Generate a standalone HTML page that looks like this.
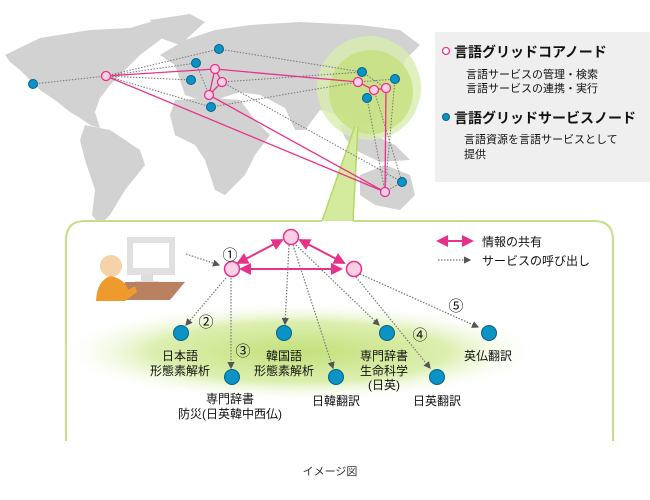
<!DOCTYPE html>
<html><head><meta charset="utf-8"><style>
html,body{margin:0;padding:0;background:#fff;}
svg{display:block;font-family:"Liberation Sans","Noto Sans CJK JP",sans-serif;}
</style></head><body>
<svg width="650" height="500" viewBox="0 0 650 500" xmlns="http://www.w3.org/2000/svg">
<defs>
<radialGradient id="glow" cx="50%" cy="50%" r="50%">
<stop offset="0" stop-color="#c4e07a"/><stop offset="0.6" stop-color="#dcefb0"/><stop offset="1" stop-color="#ffffff" stop-opacity="0"/>
</radialGradient>
<marker id="ga" markerWidth="6" markerHeight="6" refX="5" refY="3" orient="auto"><path d="M0,0 L6,3 L0,6z" fill="#555"/></marker>
<marker id="pa" markerWidth="6" markerHeight="6" refX="5" refY="3" orient="auto"><path d="M0,0 L6,3 L0,6z" fill="#e8328a"/></marker>
<marker id="ps" markerWidth="6" markerHeight="6" refX="1" refY="3" orient="auto"><path d="M6,0 L0,3 L6,6z" fill="#e8328a"/></marker>
</defs>
<!-- map -->
<g fill="#d2d2d2">
<polygon points="5,55 40,38 90,30 130,28 150,22 175,24 160,40 140,55 125,70 110,85 100,98 95,112 100,128 90,125 80,118 70,112 55,100 40,90 30,80 20,70 10,62"/>
<polygon points="150,20 190,14 205,22 180,45 160,38"/>
<polygon points="85,125 110,130 140,150 145,165 125,190 110,215 100,225 92,215 95,190 85,160 80,140"/>
<polygon points="160,55 185,40 215,30 250,25 300,22 360,25 400,30 420,45 405,60 400,80 390,100 375,120 355,125 340,115 320,110 305,130 295,130 285,108 270,100 260,95 240,92 215,100 200,100 185,95 180,80 175,65"/>
<polygon points="175,100 215,98 240,100 255,120 270,135 255,155 245,175 225,195 215,190 205,160 195,145 175,135 170,115"/>
<polygon points="360,175 385,165 410,175 415,195 400,210 375,205 360,195"/>
<polygon points="340,125 360,128 395,145 410,160 380,162 355,150 345,138"/>
</g>
<circle cx="369" cy="88" r="52" fill="#d9ecaf" opacity="0.8"/>
<circle cx="371" cy="92" r="42" fill="#c6e07e" opacity="0.8"/>
<polygon points="355,126 322,221 353,221 358,126" fill="#d4ea9c"/>
<line x1="355" y1="126" x2="322" y2="221" stroke="#b5d86a" stroke-width="1.5"/>
<line x1="358" y1="126" x2="353" y2="221" stroke="#b5d86a" stroke-width="1.5"/>
<!-- dotted links -->
<g stroke="#777" stroke-width="1" stroke-dasharray="1.5,1.5" fill="none">
<line x1="33" y1="84" x2="106" y2="76"/><line x1="106" y1="76" x2="219" y2="49"/>
<line x1="106" y1="76" x2="196" y2="63"/><line x1="106" y1="76" x2="191" y2="80"/>
<line x1="106" y1="76" x2="211" y2="107"/><line x1="219" y1="49" x2="362" y2="72"/>
<line x1="211" y1="107" x2="358" y2="82"/><line x1="222" y1="82" x2="402" y2="182"/>
<line x1="362" y1="72" x2="386" y2="88"/><line x1="367" y1="98" x2="385" y2="192"/>
<line x1="395" y1="79" x2="385" y2="192"/><line x1="374" y1="90" x2="402" y2="182"/>
<line x1="358" y1="82" x2="395" y2="79"/><line x1="385" y1="192" x2="402" y2="182"/>
<line x1="196" y1="63" x2="209" y2="95"/><line x1="222" y1="82" x2="362" y2="72"/>
</g>
<g stroke="#e8328a" stroke-width="1.3" fill="none">
<line x1="106" y1="76" x2="215" y2="69"/><line x1="215" y1="69" x2="358" y2="82"/>
<line x1="106" y1="76" x2="385" y2="192"/><line x1="209" y1="95" x2="385" y2="192"/>
<line x1="215" y1="69" x2="222" y2="82"/><line x1="215" y1="69" x2="209" y2="95"/>
<line x1="222" y1="82" x2="209" y2="95"/><line x1="358" y1="82" x2="374" y2="90"/>
<line x1="374" y1="90" x2="386" y2="88"/><line x1="386" y1="88" x2="385" y2="192"/>
</g>
<g fill="#0a93c4" stroke="#07608a" stroke-width="1">
<circle cx="33" cy="84" r="4.5"/><circle cx="219" cy="49" r="4.5"/><circle cx="196" cy="63" r="4.5"/>
<circle cx="191" cy="80" r="4.5"/><circle cx="211" cy="107" r="4.5"/><circle cx="362" cy="72" r="4.5"/>
<circle cx="395" cy="79" r="4.5"/><circle cx="367" cy="98" r="4.5"/><circle cx="402" cy="182" r="4.5"/>
</g>
<g fill="#fbd0e4" stroke="#e8328a" stroke-width="1.3">
<circle cx="106" cy="76" r="4.5"/><circle cx="215" cy="69" r="4.5"/><circle cx="222" cy="82" r="4.5"/>
<circle cx="209" cy="95" r="4.5"/><circle cx="358" cy="82" r="4.5"/><circle cx="374" cy="90" r="4.5"/>
<circle cx="386" cy="88" r="4.5"/><circle cx="385" cy="192" r="4.5"/>
</g>
<!-- legend box -->
<rect x="435" y="32" width="215" height="150" fill="#efefef"/>
<circle cx="446" cy="51" r="3.5" fill="#fff" stroke="#e8328a" stroke-width="1.3"/>
<text x="454" y="57" font-size="14" font-weight="bold" fill="#111">言語グリッドコアノード</text>
<text x="466" y="78" font-size="11" fill="#111">言語サービスの管理・検索</text>
<text x="466" y="92" font-size="11" fill="#111">言語サービスの連携・実行</text>
<circle cx="446" cy="117" r="3.5" fill="#0a93c4" stroke="#07608a"/>
<text x="454" y="123" font-size="14" font-weight="bold" fill="#111">言語グリッドサービスノード</text>
<text x="464" y="143" font-size="11" fill="#111">言語資源を言語サービスとして</text>
<text x="464" y="158" font-size="11" fill="#111">提供</text>
<!-- panel -->
<path d="M322,221 L85,221 Q66,221 66,240 L66,440 L613,440 L613,240 Q613,221 594,221 L353,221" fill="#fff" stroke="#c2e08a" stroke-width="2"/>
<rect x="67" y="425" width="545" height="20" fill="#fff"/>
<ellipse cx="300" cy="352" rx="245" ry="50" fill="url(#glow)"/>
<!-- person -->
<rect x="127" y="237" width="48" height="38" fill="#e0e0e0"/><rect x="133" y="243" width="36" height="25" fill="#fff"/>
<rect x="141" y="275" width="12" height="6" fill="#ddd"/><rect x="135" y="281" width="24" height="3" fill="#ddd"/>
<polygon points="125,282 185,282 170,300 120,300" fill="#b98160"/>
<circle cx="111" cy="266" r="11" fill="#f6d2a8"/>
<path d="M96,301 Q97,280 111,276 Q126,280 128,290 L135,286 L137,292 L125,301 Z" fill="#ee9a2c"/>
<!-- bottom links -->
<g stroke="#777" stroke-width="1.2" stroke-dasharray="1.5,1.5" fill="none" marker-end="url(#ga)">
<line x1="186" y1="254" x2="219" y2="265"/>
<line x1="226" y1="278" x2="186" y2="325"/>
<line x1="231" y1="278" x2="231" y2="368"/>
<line x1="289" y1="245" x2="285" y2="324"/>
<line x1="293" y1="245" x2="333" y2="368"/>
<line x1="296" y1="245" x2="379" y2="325"/>
<line x1="356" y1="277" x2="430" y2="368"/>
<line x1="360" y1="274" x2="478" y2="327"/>
</g>
<g stroke="#e8328a" stroke-width="2" marker-end="url(#pa)" marker-start="url(#ps)">
<line x1="238" y1="263" x2="282" y2="240"/>
<line x1="300" y1="240" x2="344" y2="263"/>
<line x1="241" y1="269" x2="341" y2="269"/>
</g>
<g fill="#fbd0e4" stroke="#e8328a" stroke-width="1.5">
<circle cx="291" cy="237" r="7.5"/><circle cx="232" cy="269" r="7.5"/><circle cx="354" cy="269" r="7.5"/>
</g>
<g fill="#0a93c4" stroke="#07608a" stroke-width="1">
<circle cx="181" cy="333" r="7.5"/><circle cx="232" cy="377" r="7.5"/><circle cx="284" cy="333" r="7.5"/>
<circle cx="336" cy="377" r="7.5"/><circle cx="387" cy="333" r="7.5"/><circle cx="437" cy="377" r="7.5"/>
<circle cx="489" cy="333" r="7.5"/>
</g>
<g font-size="15" fill="#111" text-anchor="middle">
<text x="230" y="260">①</text><text x="206" y="327">②</text><text x="243" y="356">③</text>
<text x="420" y="340">④</text><text x="456" y="311">⑤</text>
</g>
<g font-size="12" fill="#111" text-anchor="middle">
<text x="180" y="360">日本語</text><text x="180" y="375">形態素解析</text>
<text x="230" y="403">専門辞書</text><text x="230" y="418">防災(日英韓中西仏)</text>
<text x="284" y="360">韓国語</text><text x="284" y="375">形態素解析</text>
<text x="336" y="405">日韓翻訳</text>
<text x="384" y="360">専門辞書</text><text x="384" y="375">生命科学</text><text x="384" y="389">(日英)</text>
<text x="437" y="405">日英翻訳</text>
<text x="488" y="360">英仏翻訳</text>
</g>
<line x1="438" y1="241" x2="472" y2="241" stroke="#e8328a" stroke-width="2" marker-end="url(#pa)" marker-start="url(#ps)"/>
<text x="482" y="246" font-size="12" fill="#111">情報の共有</text>
<line x1="438" y1="260" x2="470" y2="260" stroke="#777" stroke-width="1.2" stroke-dasharray="1.5,1.5" marker-end="url(#ga)"/>
<text x="482" y="265" font-size="12" fill="#111">サービスの呼び出し</text>
<text x="330" y="475" font-size="11" fill="#333" text-anchor="middle">イメージ図</text>
</svg>
</body></html>
